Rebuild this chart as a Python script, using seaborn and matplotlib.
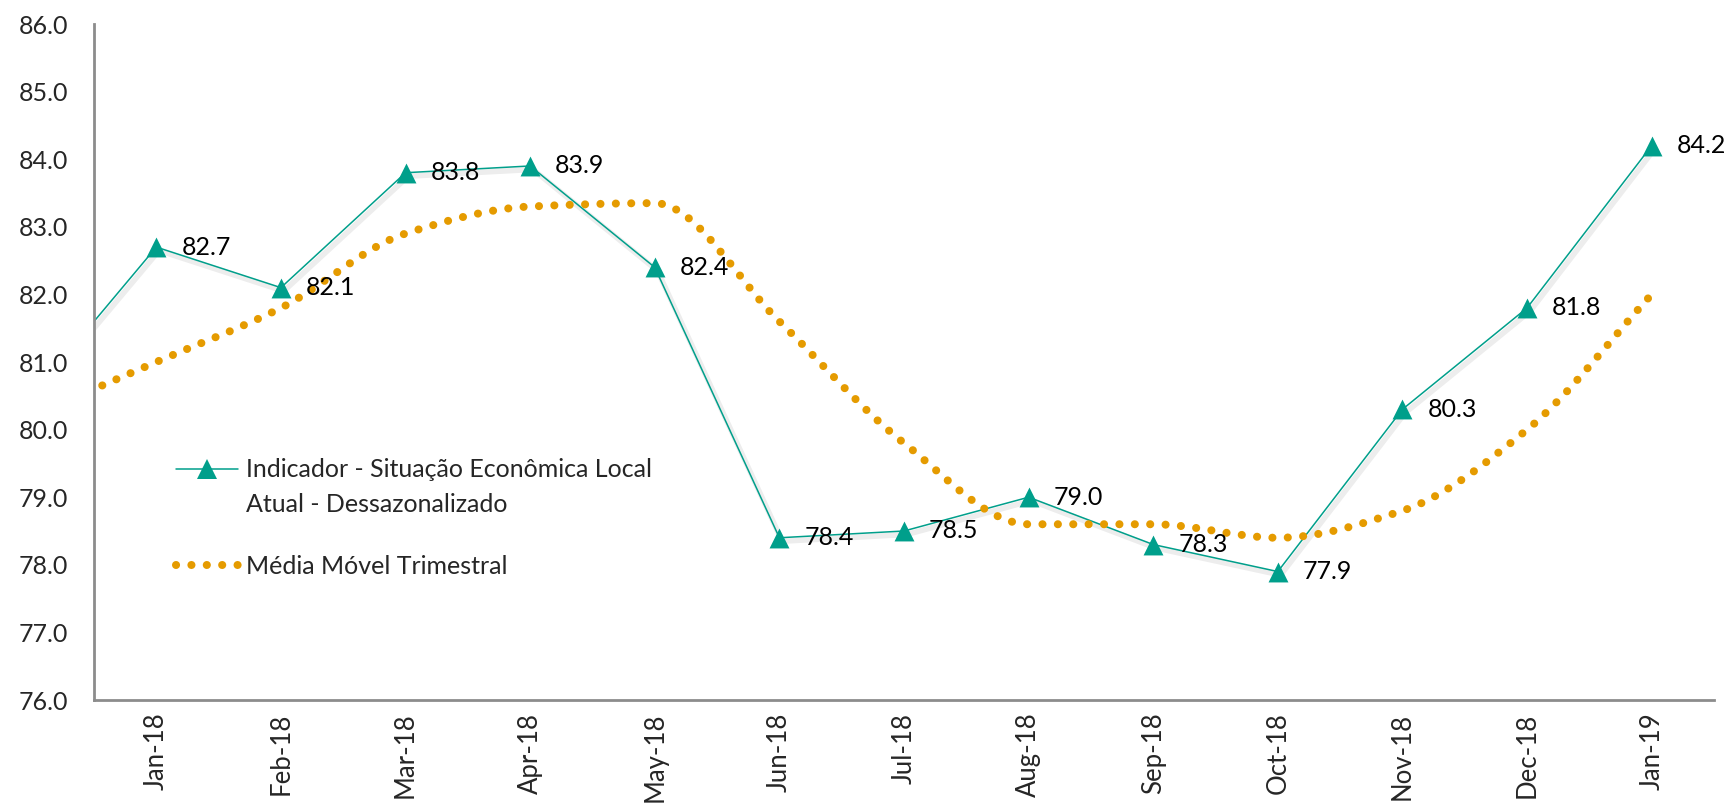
import numpy as np
import pandas as pd
import matplotlib
matplotlib.use("Agg")
import matplotlib.pyplot as plt
import matplotlib.patheffects as pe
from matplotlib.path import Path
from matplotlib.patches import PathPatch
from matplotlib.lines import Line2D
import seaborn as sns

# Data (Dec-17 sits just left of the axis and is clipped)
months = ["Dec-17", "Jan-18", "Feb-18", "Mar-18", "Apr-18", "May-18", "Jun-18",
          "Jul-18", "Aug-18", "Sep-18", "Oct-18", "Nov-18", "Dec-18", "Jan-19"]
indicator = [80.5, 82.7, 82.1, 83.8, 83.9, 82.4, 78.4, 78.5, 79.0, 78.3, 77.9, 80.3, 81.8, 84.2]
moving_avg = [80.2, 81.0, 81.8, 82.9, 83.3, 83.35, 81.6, 79.8, 78.6, 78.6, 78.4, 78.8, 80.0, 82.0]
y_ticks = [76.0, 77.0, 78.0, 79.0, 80.0, 81.0, 82.0, 83.0, 84.0, 85.0, 86.0]

label_ind = "Indicador - Situação Econômica Local"
label_ind2 = "Atual - Dessazonalizado"
label_ma = "Média Móvel Trimestral"

teal = "#009F8B"
orange = "#E59B00"
axis_gray = "#8C8C8C"
fs = 18
dots = (0, (0.01, 1.9))

df = pd.DataFrame({"month": months, "pos": np.arange(len(months)) - 1,
                   "indicator": indicator, "ma": moving_avg})

sns.set_style("white")
plt.rcParams["font.family"] = ["Lato", "DejaVu Sans"]
plt.rcParams["font.size"] = fs

fig = plt.figure(figsize=(17.34, 8.1), dpi=100)
ax = fig.add_axes([94 / 1734, 110 / 810, 1620 / 1734, 676 / 810])

# indicator line with a soft shadow
sns.lineplot(data=df, x="pos", y="indicator", color=teal, linewidth=1.1, ax=ax, zorder=2,
             path_effects=[pe.SimpleLineShadow(offset=(2, -2.5), shadow_color="k",
                                               alpha=0.07, linewidth=4), pe.Normal()])

# smoothed moving average: cubic Bezier pieces with monotone tangents (no overshoot)
pts = df[["pos", "ma"]].to_numpy(dtype=float)
d = np.diff(pts[:, 1])
m = np.zeros(len(pts))
m[0], m[-1] = d[0], d[-1]
for i in range(1, len(pts) - 1):
    if d[i - 1] * d[i] > 0:
        m[i] = 2 / (1 / d[i - 1] + 1 / d[i])
verts = [pts[0]]
codes = [Path.MOVETO]
for i in range(len(pts) - 1):
    x0, y0 = pts[i]
    x1, y1 = pts[i + 1]
    verts += [(x0 + 1 / 3, y0 + m[i] / 3), (x1 - 1 / 3, y1 - m[i + 1] / 3), (x1, y1)]
    codes += [Path.CURVE4] * 3
ma_patch = PathPatch(Path(verts, codes), facecolor="none", edgecolor=orange, linewidth=5.8,
                     linestyle=dots, capstyle="round", zorder=3)
ax.add_patch(ma_patch)

# markers
sns.scatterplot(data=df, x="pos", y="indicator", marker="^", s=205, color=teal,
                linewidth=0, ax=ax, zorder=4)

# data labels
for _, row in df.iloc[1:].iterrows():
    ax.annotate(f"{row['indicator']:.1f}", (row["pos"], row["indicator"]),
                xytext=(18, 0), textcoords="offset points", ha="left", va="center",
                fontsize=fs, color="black", zorder=5)

ax.set_xlim(-0.5, len(months) - 1.5)
ax.set_ylim(76, 86)
ax.set_yticks(y_ticks)
ax.set_yticklabels([f"{v:.1f}" for v in y_ticks])

# ticks at category boundaries, labels at centres
ax.set_xticks(np.arange(-0.5, len(months) - 1, 1.0))
ax.set_xticklabels([])
ax.set_xticks(df["pos"].iloc[1:], minor=True)
ax.set_xticklabels(months[1:], minor=True, rotation=90)
ax.tick_params(axis="x", which="minor", length=0, pad=9, labelsize=18.5)
ax.tick_params(axis="both", which="major", length=6.5, width=2, color=axis_gray,
               direction="out", labelsize=fs)
ax.tick_params(axis="y", pad=12)
ax.set_xlabel("")
ax.set_ylabel("")

for side in ["top", "right"]:
    ax.spines[side].set_visible(False)
for side in ["left", "bottom"]:
    ax.spines[side].set_color(axis_gray)
    ax.spines[side].set_linewidth(2)

# legend (two pieces so the handle sits on the first line of text)
h_ind = Line2D([], [], color=teal, linewidth=1.1, marker="^", markersize=14, markeredgewidth=0)
h_blank = Line2D([], [], color="none")
leg1 = ax.legend([h_ind, h_blank], [label_ind, label_ind2], loc="center left",
                 bbox_to_anchor=(0.0506, 0.315), frameon=False, fontsize=fs,
                 handlelength=2.5, handletextpad=0.32, labelspacing=0.45,
                 borderpad=0, borderaxespad=0, numpoints=1)
ax.add_artist(leg1)
h_ma = Line2D([], [], color=orange, linewidth=5.8, linestyle=dots, dash_capstyle="round")
ax.legend([h_ma], [label_ma], loc="center left", bbox_to_anchor=(0.0506, 0.198),
          frameon=False, fontsize=fs, handlelength=2.5, handletextpad=0.32,
          borderpad=0, borderaxespad=0)

fig.savefig("out.png", dpi=100)
